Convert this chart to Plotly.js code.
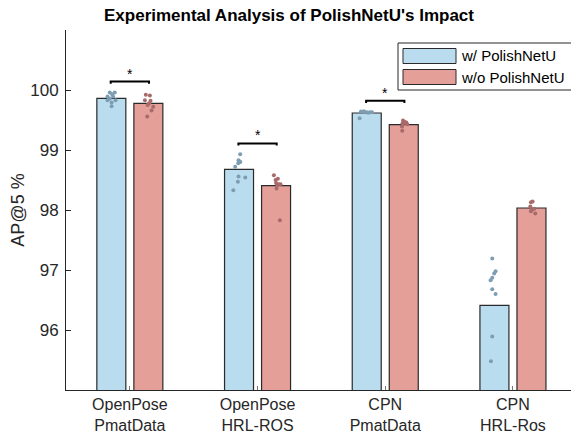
<!DOCTYPE html>
<html>
<head>
<meta charset="utf-8">
<script src="https://cdn.plot.ly/plotly-3.0.1.min.js"></script>
<style>html,body{margin:0;padding:0;background:#fff;}#chart{width:571px;height:434px;}</style>
</head>
<body>
<div id="chart"></div>
<script>
// ---- data ----
const categories = ["OpenPose<br>PmatData", "OpenPose<br>HRL-ROS", "CPN<br>PmatData", "CPN<br>HRL-Ros"];
const seriesNames = ["w/ PolishNetU", "w/o PolishNetU"];
const withMean = [99.862, 98.678, 99.617, 96.411];
const withoutMean = [99.778, 98.406, 99.422, 98.033];

// individual runs
const withRuns = [
  [99.96, 99.96, 99.93, 99.89, 99.89, 99.86, 99.83, 99.83, 99.79, 99.73],
  [98.93, 98.83, 98.81, 98.78, 98.72, 98.56, 98.54, 98.47, 98.33, 98.80],
  [99.64, 99.64, 99.63, 99.63, 99.63, 99.64, 99.62, 99.53],
  [97.19, 96.98, 96.94, 96.87, 96.83, 96.68, 96.60, 95.89, 95.48]
];
const withoutRuns = [
  [99.92, 99.91, 99.83, 99.82, 99.78, 99.75, 99.72, 99.66, 99.56],
  [98.58, 98.52, 98.50, 98.43, 98.42, 98.43, 98.36, 97.83, 98.45],
  [99.49, 99.47, 99.46, 99.43, 99.39, 99.32, 99.45, 99.44],
  [98.13, 98.14, 98.06, 98.00, 98.02, 97.94, 97.98]
];
// horizontal jitter of the dots (category units)
const withJitter = [
  [-0.012, 0.027, 0.006, -0.030, 0.014, -0.012, 0.033, -0.030, 0.002, 0.002],
  [0.009, -0.004, 0.004, -0.006, -0.030, -0.004, 0.049, -0.009, -0.045, 0.010],
  [-0.045, -0.025, 0.002, 0.027, 0.041, -0.020, 0.012, -0.056],
  [-0.017, 0.009, -0.002, -0.017, -0.030, -0.017, 0.009, -0.017, -0.027]
];
const withoutJitter = [
  [-0.020, 0.012, -0.027, 0.017, 0.006, -0.006, 0.038, 0.025, -0.009],
  [-0.017, 0.014, -0.004, 0.022, 0.009, 0.035, 0.004, 0.030, 0.000],
  [-0.006, 0.006, 0.020, 0.027, -0.014, -0.012, 0.010, -0.010],
  [-0.004, 0.009, -0.009, 0.002, 0.022, 0.030, -0.004]
];
// significance brackets (null = none)
const sigLevel = [100.14, 99.11, 99.82, null];
const sigLabel = ["*", "*", "*", null];
const yTicks = [96, 97, 98, 99, 100];

// ---- styles ----
const blueFill = "#badcef", redFill = "#e59f99";
const blueDot = "#7d9db2", redDot = "#a86a6a";
const ink = "#262626";
const FONT = "Liberation Sans, Arial, Helvetica, sans-serif";
const W = 571, H = 434, L = 66, R = 0, T = 30, B = 44;
const half = 0.145;

const xs = categories.map((_, i) => i + 1);
const px2x = px => (px - L) / (W - L - R);
const py2y = py => (H - B - py) / (H - T - B);

const traces = [
  {type: "bar", x: xs, y: withMean, name: seriesNames[0], marker: {color: blueFill, line: {color: "#2a2a2a", width: 1.2}}, showlegend: false, hoverinfo: "y"},
  {type: "bar", x: xs, y: withoutMean, name: seriesNames[1], marker: {color: redFill, line: {color: "#2a2a2a", width: 1.2}}, showlegend: false, hoverinfo: "y"}
];
const dots = (runs, jit, sign, color) => {
  const x = [], y = [];
  runs.forEach((arr, i) => arr.forEach((v, j) => { x.push(xs[i] + sign * half + jit[i][j]); y.push(v); }));
  return {type: "scatter", mode: "markers", x, y, marker: {color, size: 4}, showlegend: false, hoverinfo: "y", cliponaxis: true};
};
traces.push(dots(withRuns, withJitter, -1, blueDot));
traces.push(dots(withoutRuns, withoutJitter, 1, redDot));

const shapes = [], annotations = [];
sigLevel.forEach((lv, i) => {
  if (lv === null) return;
  const x0 = xs[i] - half - 0.005, x1 = xs[i] + half + 0.005, drop = 0.035;
  shapes.push({type: "path", xref: "x", yref: "y",
    path: `M ${x0} ${lv - drop} L ${x0} ${lv} L ${x1} ${lv} L ${x1} ${lv - drop}`,
    line: {color: "#000", width: 2}});
  annotations.push({xref: "x", yref: "y", x: xs[i], y: lv, text: sigLabel[i], showarrow: false,
    yanchor: "bottom", yshift: -2, font: {family: FONT, size: 14, color: "#000"}});
});

// custom legend (wide swatches like the original)
shapes.push({type: "rect", xref: "paper", yref: "paper", x0: px2x(398), x1: px2x(575), y0: py2y(90), y1: py2y(43),
  line: {color: ink, width: 1}, fillcolor: "#fff", layer: "above"});
const legRows = [[48.5, 63.5, blueFill], [69.5, 84.5, redFill]];
legRows.forEach((r, k) => {
  shapes.push({type: "rect", xref: "paper", yref: "paper", x0: px2x(403), x1: px2x(456), y0: py2y(r[1]), y1: py2y(r[0]),
    line: {color: "#2a2a2a", width: 1}, fillcolor: r[2], layer: "above"});
  annotations.push({xref: "paper", yref: "paper", x: px2x(459), y: py2y((r[0] + r[1]) / 2), xanchor: "left", yanchor: "middle",
    text: seriesNames[k], showarrow: false, font: {family: FONT, size: 15, color: "#000"}});
});

const layout = {
  width: W, height: H,
  margin: {l: L, r: R, t: T, b: B, pad: 0},
  paper_bgcolor: "#fff", plot_bgcolor: "#fff",
  font: {family: FONT, color: ink},
  title: {text: "<b>Experimental Analysis of PolishNetU's Impact</b>", font: {family: FONT, size: 17, color: "#000"},
    xref: "container", x: 289 / W, xanchor: "center", yref: "container", y: 1 - 15 / H, yanchor: "middle"},
  barmode: "group", bargap: 0.42, bargroupgap: 0.217,
  xaxis: {range: [0.5, 0.5 + (W - L - R) / 127.7], tickvals: xs, ticktext: categories, ticks: "inside", ticklen: 4,
    tickcolor: "#777", showline: true, linecolor: ink, linewidth: 1, showgrid: false, zeroline: false,
    tickfont: {family: FONT, size: 16, color: ink}, fixedrange: true},
  yaxis: {range: [95, 101], tickvals: yTicks, ticks: "inside", ticklen: 5, tickcolor: ink,
    showline: true, linecolor: ink, linewidth: 1, showgrid: false, zeroline: false, ticklabelstandoff: 3,
    tickfont: {family: FONT, size: 17, color: ink},
    title: {text: "AP@5 %", font: {family: FONT, size: 18, color: ink}, standoff: 0}, fixedrange: true},
  shapes, annotations
};
Plotly.newPlot("chart", traces, layout, {displayModeBar: false, staticPlot: true});
</script>
</body>
</html>
